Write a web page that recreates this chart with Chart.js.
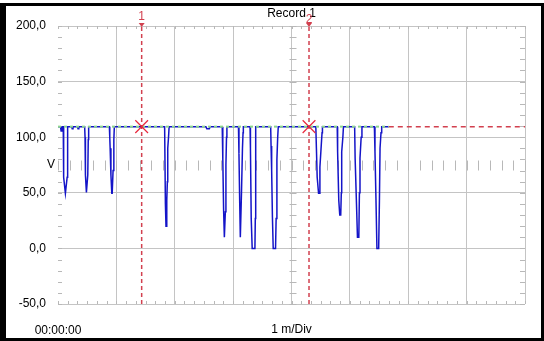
<!DOCTYPE html>
<html>
<head>
<meta charset="utf-8">
<script src="https://cdn.jsdelivr.net/npm/chart.js@4.4.1/dist/chart.umd.min.js"></script>
<style>
    body { margin: 0; background: #fff; }
    canvas { display: block; }
</style>
</head>
<body>
<canvas id="myChart" width="544" height="341"></canvas>
<script>
// datos (tiempo en segundos, tension en V)
const traceTimes = [
    0, 2.6, 3.2, 4.0, 4.6,
    5.4, 5.6, 6.0, 7.6, 8.0, 9.4, 9.8, 10.0,
    14, 14.6, 15.4,
    20, 20.6, 21.4,
    27.4, 27.8, 28.2, 29.2, 29.6, 30.6, 31.1, 31.5,
    52.8, 53.2, 53.6, 54.4, 55.3, 55.7, 56.6, 57.4, 57.9,
    109.6, 110.4, 111.0, 111.4, 111.8, 112.4, 112.8, 113.6, 114.2,
    152, 153, 155.5, 156.5,
    168.8, 169.4, 170.2, 171.0, 171.4, 172.0, 172.6, 173.2, 173.6,
    185.5, 186.0, 186.8, 187.4, 187.8, 188.6, 189.6, 190.2, 190.5,
    197.4, 197.8, 198.6, 199.6, 202.4, 202.8, 203.0, 203.4,
    218.6, 219.0, 219.6, 220.4, 221.2, 223.6, 224.2, 225.0, 225.8, 226.4,
    265.0, 265.6, 266.4, 267.8, 268.4, 269.2, 270.6, 271.4, 271.8,
    287.0, 287.4, 288.6, 289.6, 290.6, 291.2, 291.6, 292.8, 293.4,
    304.9, 305.4, 306.8, 307.8, 309.2, 309.8, 310.4, 311.6, 312.4,
    325.2, 325.8, 326.8, 327.8, 329.6, 330.4, 331.0, 332.0, 332.7,
    340
]
const traceVolts = [
    109.5, 109.5, 105.5, 108, 109.5,
    109.5, 98, 64, 49.5, 49.5, 64, 97, 109.5,
    109.5, 107.5, 109.5,
    109.5, 107.5, 109.5,
    109.5, 100, 66, 50.4, 50.4, 66, 98, 109.5,
    109.5, 100, 90, 66, 49.5, 49.5, 70, 98, 109.5,
    109.5, 40, 20, 20, 43, 60, 90, 100, 109.5,
    109.5, 107.5, 107.5, 109.5,
    109.5, 80, 35, 10, 10, 33, 75, 100, 109.5,
    109.5, 85, 40, 10, 10, 50, 90, 104, 109.5,
    109.5, 90, 27, 0, 0, 27, 90, 109.5,
    109.5, 92, 70, 28, 0, 0, 27, 80, 100, 109.5,
    109.5, 90, 64, 49.5, 49.5, 73, 93, 104, 109.5,
    109.5, 87, 43, 30, 30, 50, 87, 100, 109.5,
    109.5, 81, 40, 10, 10, 50, 81, 100, 109.5,
    109.5, 87, 45, 0, 0, 45, 90, 104, 109.5,
    109.5
]

const levelTimes = [0, 340]       // linea verde sobre el registro
const levelTailTimes = [340, 480] // linea roja hasta el final
const levelVolt = 109.5

const cursorTimes = [86, 258]
const cursorVolts = [109.5, 109.5]
const cursorLabels = ["1", "2"]

const xMin = 0
const xMax = 480
const xStep = 60
const yMin = -50
const yMax = 200
const yStep = 50

const rojo = '#d2404f'
const gris = '#c4c4c4'

Chart.defaults.font.family = "'Liberation Sans', Arial, sans-serif";
Chart.defaults.font.size = 12;
Chart.defaults.color = '#000';

const trace = traceTimes.map((t, i) => ({ x: t, y: traceVolts[i] }))

const extras = {
    id: 'extras',
    beforeDatasetsDraw(chart) {
        const { ctx, chartArea: a, scales: { x, y } } = chart;
        ctx.save();
        ctx.strokeStyle = '#b8b8b8';
        ctx.lineWidth = 1;
        ctx.beginPath();
        const cx = Math.round(x.getPixelForValue((x.min + x.max) / 2)) + 0.5;
        const cy = Math.round(y.getPixelForValue((y.min + y.max) / 2)) + 0.5;
        for (let t = x.min; t <= x.max; t += xStep / 6) {
            const px = Math.round(x.getPixelForValue(t)) + 0.5;
            ctx.moveTo(px, a.top); ctx.lineTo(px, a.top + 3);
            ctx.moveTo(px, a.bottom); ctx.lineTo(px, a.bottom - 3);
        }
        for (let t = x.min; t <= x.max; t += xStep / 5) {
            const px = Math.round(x.getPixelForValue(t)) + 0.5;
            ctx.moveTo(px, cy - 5); ctx.lineTo(px, cy + 5);
        }
        for (let v = y.min; v <= y.max; v += yStep / 5) {
            const py = Math.round(y.getPixelForValue(v)) + 0.5;
            ctx.moveTo(a.left, py); ctx.lineTo(a.left + 4, py);
            ctx.moveTo(a.right, py); ctx.lineTo(a.right - 5, py);
            ctx.moveTo(cx - 3, py); ctx.lineTo(cx + 4, py);
        }
        ctx.stroke();
        ctx.restore();
    },
    afterDraw(chart) {
        const { ctx, chartArea: a, scales: { x, y } } = chart;
        ctx.save();
        // marco negro
        ctx.fillStyle = '#000';
        ctx.fillRect(0, 3, 544, 3);
        ctx.fillRect(0, 3, 6, 338);
        ctx.fillRect(0, 338, 544, 3);
        ctx.fillRect(541, 3, 3, 338);

        ctx.font = "12px 'Liberation Sans', Arial, sans-serif";
        ctx.textAlign = 'center';
        ctx.textBaseline = 'middle';
        ctx.fillText('V', 51, y.getPixelForValue((y.min + y.max) / 2));

        // cursores
        ctx.fillStyle = rojo;
        cursorTimes.forEach((t, i) => {
            const px = x.getPixelForValue(t);
            ctx.fillText(cursorLabels[i], px, i === 0 ? 17 : 19.5);
            ctx.beginPath();
            ctx.moveTo(px - 3, a.top - 3);
            ctx.lineTo(px + 3, a.top - 3);
            ctx.lineTo(px, a.top + 1);
            ctx.closePath();
            ctx.fill();
        });
        ctx.restore();
    }
}

let ctx = document.getElementById("myChart").getContext("2d");

new Chart(ctx, {
    type: 'line',
    data: {
        datasets: [
            {
                label: 'cursores',
                data: cursorTimes.map((t, i) => ({ x: t, y: cursorVolts[i] })),
                showLine: false,
                pointStyle: 'crossRot',
                pointRadius: 9,
                borderColor: '#e8283c',
                pointBorderColor: '#e8283c',
                pointBackgroundColor: '#e8283c',
                pointBorderWidth: 1.2,
                borderWidth: 1.2
            },
            {
                label: 'nivel',
                data: levelTimes.map(t => ({ x: t, y: levelVolt })),
                borderColor: '#8cd68c',
                borderWidth: 2,
                borderDash: [3, 3],
                pointRadius: 0
            },
            {
                label: 'Record 1',
                data: trace,
                borderColor: '#1414c8',
                borderWidth: 1.5,
                pointRadius: 0,
                tension: 0
            },
            {
                label: 'cursor 1',
                data: [{ x: cursorTimes[0], y: yMin }, { x: cursorTimes[0], y: yMax }],
                borderColor: rojo,
                borderWidth: 1.5,
                borderDash: [4, 3],
                pointRadius: 0
            },
            {
                label: 'cursor 2',
                data: [{ x: cursorTimes[1], y: yMin }, { x: cursorTimes[1], y: yMax }],
                borderColor: rojo,
                borderWidth: 1.5,
                borderDash: [4, 3],
                pointRadius: 0
            },
            {
                label: 'nivel fin',
                data: levelTailTimes.map(t => ({ x: t, y: levelVolt })),
                borderColor: rojo,
                borderWidth: 1.5,
                borderDash: [5, 4],
                pointRadius: 0
            }
        ]
    },
    options: {
        responsive: false,
        animation: false,
        layout: { padding: { left: 0, right: 13, top: 0, bottom: 0 } },
        scales: {
            x: {
                type: 'linear',
                min: xMin,
                max: xMax,
                afterFit: (scale) => { scale.height = 37 },
                ticks: {
                    stepSize: xStep,
                    padding: 19,
                    maxRotation: 0,
                    autoSkip: false,
                    callback: (v) => v === 0 ? '00:00:00' : ''
                },
                grid: {
                    color: (c) => c.tick && c.tick.value === 0 ? 'rgba(0,0,0,0)' : gris,
                    drawTicks: false
                },
                border: { display: false },
                title: {
                    display: true,
                    text: '1 m/Div',
                    padding: { top: 0, bottom: 3.8 }
                }
            },
            x2: {
                type: 'linear',
                position: 'top',
                min: xMin,
                max: xMax,
                afterFit: (scale) => { scale.height = 26 },
                ticks: { display: false },
                grid: { display: false },
                border: { display: false },
                title: {
                    display: true,
                    text: 'Record 1',
                    padding: { top: 6.8, bottom: 0 }
                }
            },
            y: {
                min: yMin,
                max: yMax,
                afterFit: (scale) => { scale.width = 58 },
                ticks: {
                    stepSize: yStep,
                    padding: 12,
                    callback: (v) => v.toFixed(1).replace('.', ',')
                },
                grid: { color: gris, drawTicks: false },
                border: { display: false }
            }
        },
        plugins: {
            legend: { display: false },
            tooltip: { enabled: false }
        }
    },
    plugins: [extras]
});
</script>
</body>
</html>
